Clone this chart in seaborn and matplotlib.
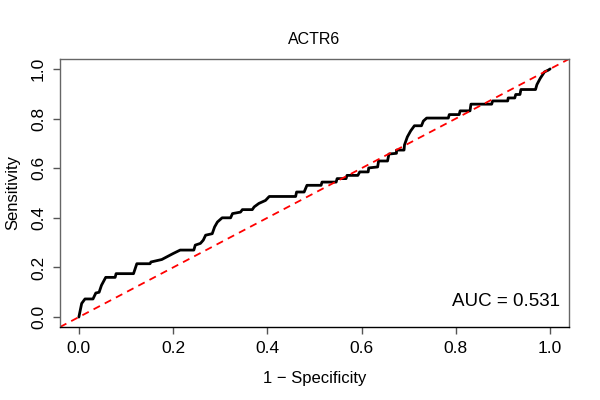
import matplotlib
matplotlib.use("Agg")
import matplotlib.pyplot as plt
import seaborn as sns
import pandas as pd

fpr = [0, 0.006, 0.013, 0.03, 0.036, 0.043, 0.048, 0.057, 0.077, 0.079, 0.116, 0.123,
       0.151, 0.153, 0.176, 0.200, 0.215, 0.244, 0.247, 0.258, 0.264, 0.269, 0.283, 0.288,
       0.294, 0.304, 0.322, 0.326, 0.343, 0.347, 0.368, 0.372, 0.382, 0.396, 0.404, 0.460,
       0.462, 0.478, 0.484, 0.514, 0.516, 0.546, 0.548, 0.567, 0.569, 0.592, 0.596, 0.614,
       0.615, 0.634, 0.636, 0.655, 0.658, 0.674, 0.674, 0.690, 0.691, 0.697, 0.704, 0.712,
       0.727, 0.731, 0.738, 0.784, 0.786, 0.807, 0.809, 0.830, 0.832, 0.876, 0.878, 0.910,
       0.911, 0.925, 0.927, 0.936, 0.938, 0.969, 0.972, 0.979, 0.988, 0.996, 1.0]
tpr = [0, 0.055, 0.073, 0.073, 0.097, 0.100, 0.128, 0.160, 0.160, 0.175, 0.175, 0.215,
       0.215, 0.222, 0.232, 0.256, 0.270, 0.270, 0.290, 0.297, 0.310, 0.330, 0.336, 0.363,
       0.383, 0.400, 0.400, 0.417, 0.423, 0.433, 0.433, 0.444, 0.458, 0.470, 0.486, 0.486,
       0.504, 0.504, 0.531, 0.531, 0.544, 0.544, 0.558, 0.558, 0.571, 0.571, 0.585, 0.585,
       0.601, 0.605, 0.629, 0.629, 0.657, 0.660, 0.673, 0.673, 0.694, 0.726, 0.750, 0.771,
       0.771, 0.790, 0.802, 0.802, 0.816, 0.816, 0.831, 0.831, 0.858, 0.858, 0.871, 0.871,
       0.883, 0.883, 0.897, 0.897, 0.917, 0.917, 0.937, 0.962, 0.988, 0.995, 1.0]
ticks = [0.0, 0.2, 0.4, 0.6, 0.8, 1.0]
tick_labels = ["0.0", "0.2", "0.4", "0.6", "0.8", "1.0"]
title = "ACTR6"
auc_text = "AUC = 0.531"

sns.set_style("white")
plt.rcParams['font.family'] = ['Liberation Sans', 'DejaVu Sans']
plt.rcParams['text.color'] = 'black'
plt.rcParams['axes.labelcolor'] = 'black'
plt.rcParams['xtick.labelcolor'] = 'black'
plt.rcParams['ytick.labelcolor'] = 'black'

fig = plt.figure(figsize=(6, 4), dpi=100)
ax = fig.add_axes([0.1, 0.1825, 0.8483, 0.67])

df = pd.DataFrame({"fpr": fpr, "tpr": tpr})
sns.lineplot(data=df, x="fpr", y="tpr", sort=False, estimator=None, color="black",
             linewidth=2, ax=ax)
ax.axline((0, 0), slope=1, color="red", linestyle=(0, (4, 3)), linewidth=1.3)

ax.set_xlim(-0.04, 1.04)
ax.set_ylim(-0.04, 1.04)
ax.set_xticks(ticks)
ax.set_xticklabels(tick_labels, fontsize=12.5, color="black")
ax.set_yticks(ticks)
ax.set_yticklabels(tick_labels, fontsize=12.5, rotation=90, va="center", color="black")
ax.tick_params(axis="both", direction="out", length=5, width=1, color="#555555",
               bottom=True, left=True, pad=5)
for s in ax.spines.values():
    s.set_color("#666666")
    s.set_linewidth(1)
ax.spines["bottom"].set_color("black")

ax.set_xlabel("1 \u2212 Specificity", fontsize=12, labelpad=11, color="black")
ax.set_ylabel("Sensitivity", fontsize=12, labelpad=8, color="black")
ax.set_title(title, fontsize=11.5, pad=11, color="black")
ax.text(1.02, 0.03, auc_text, ha="right", va="bottom", fontsize=13.5, color="black")

fig.savefig("out.png", dpi=100)
